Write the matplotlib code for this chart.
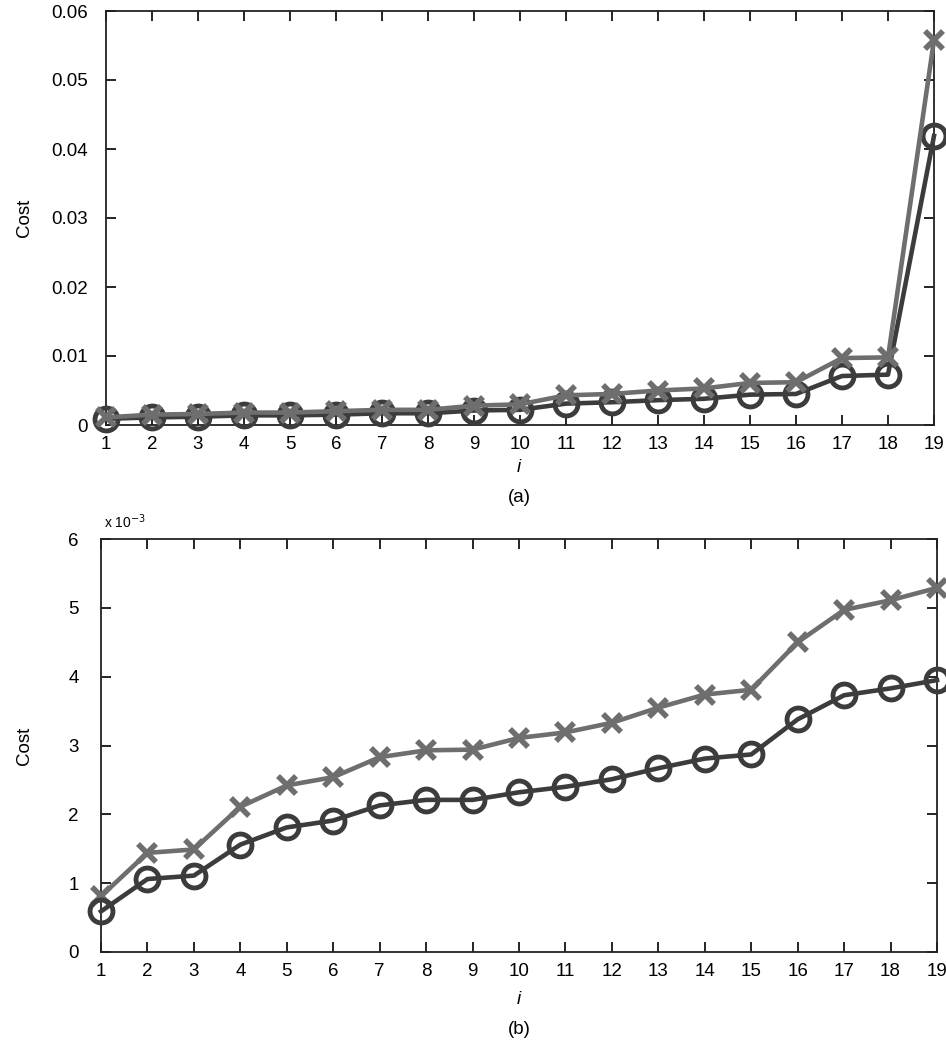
import matplotlib
matplotlib.use("Agg")
import matplotlib.pyplot as plt

plt.rcParams['font.family'] = ['Liberation Sans', 'DejaVu Sans']

idx = list(range(1, 20))
xtick_labels = [str(i) for i in idx]

# Panel (a) values
a_cross = [0.0011, 0.0015, 0.0016, 0.0018, 0.0018, 0.0020, 0.0022, 0.0022, 0.0028, 0.0030,
           0.0043, 0.0045, 0.0050, 0.0053, 0.0061, 0.0062, 0.0097, 0.0098, 0.0558]
a_circle = [0.0009, 0.0011, 0.0012, 0.0014, 0.0014, 0.0015, 0.0017, 0.0017, 0.0021, 0.0022,
            0.0031, 0.0033, 0.0036, 0.0038, 0.0044, 0.0045, 0.0071, 0.0073, 0.0419]
a_yticks = [0, 0.01, 0.02, 0.03, 0.04, 0.05, 0.06]
a_ylabels = ['0', '0.01', '0.02', '0.03', '0.04', '0.05', '0.06']

# Panel (b) values (x 10^-3)
b_cross = [0.81, 1.44, 1.49, 2.11, 2.42, 2.54, 2.83, 2.93, 2.94, 3.11, 3.19, 3.33, 3.55,
           3.74, 3.81, 4.50, 4.97, 5.11, 5.29]
b_circle = [0.59, 1.06, 1.11, 1.56, 1.81, 1.91, 2.13, 2.21, 2.21, 2.32, 2.40, 2.51, 2.67,
            2.81, 2.87, 3.38, 3.73, 3.83, 3.95]
b_yticks = [0, 1, 2, 3, 4, 5, 6]

W, H = 946, 1041
fig = plt.figure(figsize=(W / 100, H / 100), dpi=100)

dark = '#3c3c3c'
gray = '#6e6e6e'
fs = 13.5


def frac(l, r, t, b):
    return [l / W, 1 - b / H, (r - l) / W, (b - t) / H]


def style(ax, ypad):
    ax.tick_params(direction='in', length=7, width=1.2, top=True, right=True,
                   labelsize=fs)
    ax.tick_params(axis='x', pad=8)
    ax.tick_params(axis='y', pad=ypad)
    for s in ax.spines.values():
        s.set_linewidth(1.3)
        s.set_color('#222222')


circ_kw = dict(color=dark, lw=3.3, marker='o', ms=16.5, mew=3.5, mfc='none',
               mec=dark, clip_on=False)
cross_kw = dict(color=gray, lw=3.3, marker='x', ms=12.5, mew=4.0, mec=gray,
                clip_on=False)

axa = fig.add_axes(frac(106, 934, 11, 425))
axa.plot(idx, a_circle, zorder=3, **circ_kw)
axa.plot(idx, a_cross, zorder=4, **cross_kw)
axa.set_xlim(1, 19)
axa.set_ylim(0, 0.06)
axa.set_xticks(idx)
axa.set_xticklabels(xtick_labels)
axa.set_yticks(a_yticks)
axa.set_yticklabels(a_ylabels)
style(axa, 13)
axa.set_ylabel('Cost', fontsize=fs)
axa.yaxis.set_label_coords((33 - 106) / 828, 0.5)

axb = fig.add_axes(frac(101, 937, 539, 952))
axb.plot(idx, b_cross, zorder=3, **cross_kw)
axb.plot(idx, b_circle, zorder=4, **circ_kw)
axb.set_xlim(1, 19)
axb.set_ylim(0, 6)
axb.set_xticks(idx)
axb.set_xticklabels(xtick_labels)
axb.set_yticks(b_yticks)
axb.set_yticklabels([str(v) for v in b_yticks])
style(axb, 16)
axb.set_ylabel('Cost', fontsize=fs)
axb.yaxis.set_label_coords((33 - 101) / 836, 0.5)

fig.text(104 / W, 1 - 528 / H, r'x 10$^{-3}$', fontsize=10, ha='left', va='baseline')

fig.text(519 / W, 1 - 467 / H, 'i', fontsize=fs, style='italic', ha='center', va='center')
fig.text(519 / W, 1 - 497 / H, '(a)', fontsize=fs, ha='center', va='center')
fig.text(519 / W, 1 - 999 / H, 'i', fontsize=fs, style='italic', ha='center', va='center')
fig.text(519 / W, 1 - 1029 / H, '(b)', fontsize=fs, ha='center', va='center')

fig.savefig('out.png', dpi=100)
